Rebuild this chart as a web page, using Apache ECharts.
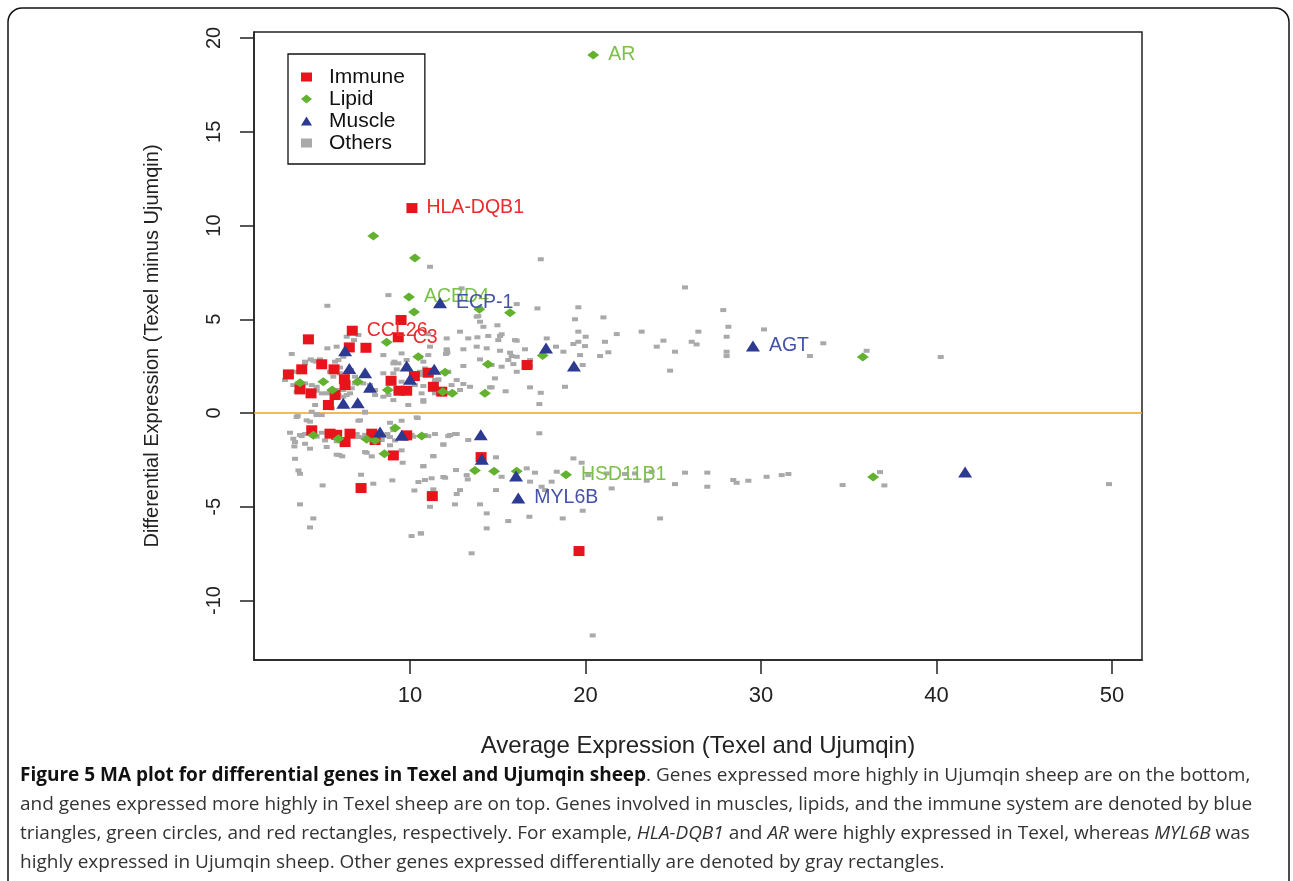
<!DOCTYPE html>
<html>
<head>
<meta charset="utf-8">
<script src="https://cdn.jsdelivr.net/npm/echarts@6/dist/echarts.min.js"></script>
<style>html,body{margin:0;padding:0;background:#fff;}#c{width:1293px;height:881px;}</style>
</head>
<body>
<div id="c"></div>
<script>
// ---- data: [average expression, differential expression, optional gene label] ----
const immunePts = [
  [10.11,10.93,'HLA-DQB1'],[9.49,4.96],[6.71,4.39,'CCL26'],[9.33,4.04,'C3'],[4.21,3.93],[6.54,3.50],[7.49,3.48],
  [4.97,2.60],[5.67,2.33],[3.83,2.33],[3.07,2.06],[6.26,1.80],[6.30,1.49],[4.36,1.05],[5.73,0.96],[5.35,0.43],
  [8.92,1.72],[9.37,1.19],[9.81,1.19],[10.25,1.97],[11.04,2.15],[11.33,1.40],[11.81,1.14],[3.73,1.26],[16.67,2.56],
  [4.40,-0.92],[5.44,-1.10],[5.82,-1.16],[6.58,-1.10],[6.30,-1.55],[7.82,-1.10],[8.01,-1.44],[9.05,-2.26],
  [7.21,-4.00],[11.27,-4.43],[14.05,-2.35],[19.63,-7.36],[9.81,-1.19]
];
const lipidPts = [
  [20.44,19.09,'AR'],[7.91,9.44],[10.28,8.27],[9.94,6.19,'ACBD4'],[10.23,5.39],[13.95,5.53],[15.70,5.35],
  [8.67,3.77],[10.47,3.00],[17.56,3.07],[35.80,2.99],[14.44,2.60],[12.00,2.18],[3.73,1.62],[5.06,1.67],
  [7.02,1.67],[5.57,1.23],[8.73,1.23],[11.86,1.14],[12.41,1.06],[14.27,1.05],
  [9.15,-0.80],[4.49,-1.19],[5.92,-1.37],[7.53,-1.40],[8.01,-1.46],[10.67,-1.23],[8.54,-2.17],
  [13.70,-3.06],[14.79,-3.11],[16.08,-3.11],[18.89,-3.29,'HSD11B1'],[36.39,-3.41]
];
const musclePts = [
  [11.71,5.88,'ECP-1'],[29.54,3.57,'AGT'],[17.75,3.47],[19.34,2.51],[41.63,-3.15],[6.30,3.32],[6.54,2.38],
  [7.44,2.15],[9.81,2.51],[11.38,2.33],[10.00,1.80],[7.72,1.37],[6.20,0.52],[7.02,0.55],
  [8.29,-1.01],[9.53,-1.19],[14.03,-1.16],[14.09,-2.47],[16.04,-3.36],[16.17,-4.53,'MYL6B']
];
const otherPts = [
  [11.14,7.80],[17.45,8.20],[25.67,6.70],[12.94,6.65],[16.08,5.81],[17.26,5.58],[19.59,5.64],[19.40,5.00],[21.02,5.10],
  [27.85,5.49],[13.89,5.17],[13.99,4.87],[14.18,4.60],[14.98,4.68],[12.85,4.34],[13.32,3.98],[13.84,4.04],[14.46,4.11],
  [15.13,4.11],[16.08,3.86],[17.79,3.98],[19.59,4.34],[20.01,4.07],[21.78,4.21],[23.20,4.34],[26.43,4.34],[28.14,4.60],
  [30.17,4.46],[28.04,4.07],[24.44,3.86],[26.05,3.80],[26.33,3.66],[24.06,3.54],[21.11,3.80],[19.97,3.57],[19.31,3.68],
  [18.74,3.27],[18.32,3.54],[16.55,3.40],[15.70,3.22],[15.13,3.32],[14.37,3.45],[13.80,3.54],[13.04,3.40],[12.09,3.40],
  [12.09,3.98],[12.05,3.15],[15.79,3.04],[15.60,2.83],[19.69,3.09],[20.83,3.04],[21.30,3.24],[25.10,3.27],[28.04,3.27],
  [28.04,3.04],[32.79,3.04],[33.55,3.72],[13.04,2.51],[13.99,2.86],[15.22,2.47],[15.89,2.61],[16.84,2.51],[19.84,2.56],
  [24.82,2.26],[11.61,1.80],[12.37,1.49],[13.04,1.55],[12.85,1.23],[14.65,1.37],[15.45,1.16],[16.84,1.37],[17.45,1.08],
  [17.37,0.48],[10.76,0.60],[12.09,1.05],[11.42,1.05],
  [36.02,3.32],[40.24,2.99],[36.78,-3.15],[37.03,-3.86],[49.83,-3.79],
  [11.42,-1.12],[12.28,-1.17],[12.56,-1.12],[13.32,-1.44],[11.90,-1.67],[17.37,-1.08],[11.33,-2.29],[14.90,-2.36],
  [10.76,-2.83],[12.62,-3.04],[13.23,-3.31],[13.29,-3.54],[12.00,-3.45],[11.23,-3.48],[10.85,-3.57],[15.22,-3.40],
  [16.65,-2.95],[17.12,-3.18],[18.36,-3.13],[19.31,-2.42],[19.78,-2.65],[20.16,-3.31],[21.21,-3.22],[22.25,-3.25],
  [22.82,-3.22],[23.49,-3.61],[23.77,-3.13],[25.10,-3.79],[25.67,-3.18],[26.94,-3.18],[26.94,-3.93],[28.42,-3.57],
  [28.61,-3.72],[29.28,-3.61],[30.32,-3.40],[31.18,-3.31],[31.56,-3.25],[34.65,-3.84],[11.33,-4.07],[12.85,-4.11],
  [14.90,-4.11],[12.66,-4.32],[11.14,-5.00],[12.56,-4.87],[13.99,-4.87],[14.37,-5.35],[15.60,-5.76],[16.80,-5.53],
  [18.70,-5.62],[19.84,-5.21],[21.49,-4.02],[24.25,-5.62],[14.37,-6.15],[10.63,-6.42],[13.51,-7.48],[20.41,-11.86],
  [17.69,-4.11],[16.84,-3.66],[17.50,-3.93],[18.07,-3.66],
  [8.77,6.29],[5.29,5.72],[14.00,5.58],[3.26,3.15],[4.34,2.86],[4.63,2.74],[4.02,2.74],[5.92,2.83],[6.81,3.89],
  [7.06,4.16],[5.29,3.45],[6.01,2.43],[6.39,2.03],[5.63,1.94],[4.68,1.40],[5.44,1.14],[6.20,0.87],[3.64,1.58],
  [4.40,0.07],[4.68,-0.11],[4.97,-0.11],[7.44,0.02],[7.34,1.58],[7.63,1.23],[8.01,0.96],[9.05,2.65],[9.24,2.33],
  [9.81,2.83],[10.57,2.97],[10.57,2.03],[10.76,1.44],[10.66,1.05],[11.71,1.05],[11.14,3.54],[12.13,3.22],[15.03,3.89],
  [14.65,2.56],[16.08,3.00],[16.84,2.83],[16.08,2.20],[19.59,3.80],[18.83,1.40],[12.66,1.76],[13.42,1.40],[14.56,1.37],
  [14.84,1.85],[11.42,1.76],[12.18,2.20],
  [4.02,2.65],[4.49,2.79],[4.87,2.86],[5.82,3.54],[5.73,2.74],[5.44,2.20],[6.01,2.12],[3.45,2.20],[2.88,1.76],
  [3.35,1.49],[4.02,1.58],[4.40,1.49],[6.20,1.23],[5.25,1.05],[5.92,0.96],[6.58,1.05],[7.72,1.49],[6.87,1.58],
  [8.01,1.23],[8.48,2.12],[8.48,3.09],[9.52,3.18],[11.04,3.09],[12.09,3.36],[10.76,2.74],[9.34,2.65],[9.05,2.12],
  [9.52,1.67],[10.76,0.69],[8.48,0.87],[9.05,0.69],[4.59,0.43],[5.54,0.25],[7.44,0.07],
  [4.68,1.19],[4.97,1.05],[3.83,1.23],[3.54,1.14],[5.92,1.23],[6.39,0.96],[6.68,1.32],[6.87,1.94],[6.64,2.29],
  [6.20,3.00],[9.11,2.74],[9.24,1.23],[9.81,1.32],[10.28,1.49],[10.57,2.20],[10.85,2.38],[11.61,1.76],[12.37,1.05],
  [9.90,0.43],[8.77,0.96],[13.80,5.14],[11.04,4.21],[15.22,4.20],[6.39,4.07],[15.98,3.89],
  [3.54,-0.21],[4.11,-0.39],[7.15,-0.39],[10.44,-0.27],[3.16,-1.05],[3.83,-1.23],[3.35,-1.37],[4.97,-1.05],[5.16,-1.46],
  [5.82,-1.51],[6.68,-1.19],[7.06,-1.28],[7.44,-1.16],[8.38,-1.23],[8.86,-1.28],[9.15,-1.46],[10.09,-1.16],[11.04,-1.23],
  [3.45,-1.55],[4.02,-1.64],[4.30,-1.90],[5.25,-1.81],[3.41,-1.78],[5.82,-2.22],[6.14,-2.31],[7.44,-2.08],[7.82,-2.31],
  [8.86,-1.72],[9.52,-1.99],[11.33,-2.31],[11.90,-1.69],[3.45,-2.44],[10.76,-2.84],[3.64,-3.06],[3.73,-3.24],[7.21,-3.29],
  [8.99,-3.59],[10.48,-3.68],[7.91,-3.77],[5.02,-3.86],[10.25,-4.13],[11.90,-3.41],[12.18,-1.23],
  [3.73,-4.87],[4.49,-5.62],[4.30,-6.10],[10.09,-6.56],[10.61,-6.42],[3.73,-1.17],[4.02,-1.12],[4.68,-1.26],[5.86,-1.23],
  [6.96,-1.12],[7.34,-1.30],[8.39,-1.44],[8.71,-1.12],[9.05,-0.91],[10.19,-1.26],[10.85,-1.17],[12.66,-1.12],[5.97,-2.24],
  [7.53,-2.12],[9.58,-2.65],[3.60,-0.16],[4.68,-0.05],[8.86,-0.52],[9.52,-0.41],[10.38,-0.23],[7.06,-0.41],[4.30,-0.46]
];
const categories = ['Immune','Lipid','Muscle','Others'];
const xTicks = [10,20,30,40,50];
const yTicks = [-10,-5,0,5,10,15,20];
const xTitle = 'Average Expression (Texel and Ujumqin)';
const yTitle = 'Differential Expression (Texel minus Ujumqin)';
const captionLines = [
  [['b','Figure 5 MA plot for differential genes in Texel and Ujumqin sheep'],['n','. Genes expressed more highly in Ujumqin sheep are on the bottom,']],
  [['n','and genes expressed more highly in Texel sheep are on top. Genes involved in muscles, lipids, and the immune system are denoted by blue']],
  [['n','triangles, green circles, and red rectangles, respectively. For example, '],['i','HLA-DQB1'],['n',' and '],['i','AR'],['n',' were highly expressed in Texel, whereas '],['i','MYL6B'],['n',' was']],
  [['n','highly expressed in Ujumqin sheep. Other genes expressed differentially are denoted by gray rectangles.']]
];

// ---- styling ----
const FONT = '"Liberation Sans", Arial, sans-serif';
const markerStyle = {
  Immune: {symbol:'rect', size:[11,10], color:'#e8131b', label:'#ea2c2c'},
  Lipid:  {symbol:'diamond', size:[12,9], color:'#62b22f', label:'#7cc04a'},
  Muscle: {symbol:'triangle', size:[14,11], color:'#2d3a91', label:'#4452a8'},
  Others: {symbol:'rect', size:[6,4], color:'#a9a9a9', label:'#a9a9a9'}
};
const dataByCat = {Immune: immunePts, Lipid: lipidPts, Muscle: musclePts, Others: otherPts};

const drawOrder = ['Others','Immune','Lipid','Muscle'];
const series = drawOrder.map((cat, i) => {
  const st = markerStyle[cat];
  const s = {
    name: cat, type: 'scatter', symbol: st.symbol, symbolSize: st.size,
    itemStyle: {color: st.color, opacity: 1},
    data: dataByCat[cat], z: 2 + i,
    emphasis: {disabled: true}, silent: true,
    label: {
      show: true, position: 'right', distance: 9,
      formatter: p => (p.data[2] || ''),
      color: st.label, fontFamily: FONT, fontSize: 19.5
    }
  };
  if (cat === 'Others') {
    s.markLine = {
      silent: true, symbol: ['none','none'], label: {show: false},
      lineStyle: {color: '#f5a21e', width: 1.6, type: 'solid'},
      data: [{yAxis: 0}], z: 1
    };
  }
  return s;
});

const captionText = captionLines.map(l => l.map(([s,t]) => '{' + s + '|' + t + '}').join('')).join('\n');
const capFont = '"Open Sans", "Noto Sans", sans-serif';

const chart = echarts.init(document.getElementById('c'), null, {renderer: 'canvas'});
chart.setOption({
  animation: false,
  backgroundColor: '#fff',
  grid: {left: 254, right: 151, top: 32, bottom: 221, show: true, borderColor: '#222', borderWidth: 1.5, containLabel: false},
  legend: {
    orient: 'vertical', left: 288, top: 54,
    data: categories,
    itemWidth: 11, itemHeight: 9, itemGap: 0,
    padding: [12, 20, 10, 13],
    borderColor: '#111', borderWidth: 1.3,
    selectedMode: false,
    textStyle: {fontFamily: FONT, fontSize: 21, color: '#111', lineHeight: 22, padding: [0,0,0,12]}
  },
  xAxis: {
    type: 'value', min: 1.11, max: 51.71,
    name: xTitle, nameLocation: 'middle', nameGap: 74,
    nameTextStyle: {fontFamily: FONT, fontSize: 24, color: '#222'},
    axisLine: {show: true, onZero: false, lineStyle: {color: '#222', width: 1.5}},
    axisTick: {show: true, length: 14, lineStyle: {color: '#222', width: 1.5}, customValues: xTicks},
    axisLabel: {customValues: xTicks, margin: 25, fontFamily: FONT, fontSize: 22, color: '#222'},
    splitLine: {show: false}
  },
  yAxis: {
    type: 'value', min: -13.17, max: 20.32,
    name: yTitle, nameLocation: 'middle', nameGap: 92, nameRotate: 90,
    nameTextStyle: {fontFamily: FONT, fontSize: 20, color: '#222'},
    axisLine: {show: true, onZero: false, lineStyle: {color: '#222', width: 1.5}},
    axisTick: {show: true, length: 14, lineStyle: {color: '#222', width: 1.5}, customValues: yTicks},
    axisLabel: {customValues: yTicks, rotate: 90, margin: 30, fontFamily: FONT, fontSize: 20, color: '#222'},
    splitLine: {show: false}
  },
  graphic: [
    {type: 'rect', silent: true, shape: {x: 8, y: 8, width: 1281, height: 920, r: 14},
     style: {fill: 'none', stroke: '#111', lineWidth: 1.5}},
    {type: 'text', left: 20, top: 766, silent: true,
     style: {
       text: captionText,
       rich: {
         b: {fontFamily: capFont, fontWeight: 'bold', fontSize: 19, lineHeight: 29, fill: '#111'},
         n: {fontFamily: capFont, fontSize: 19, lineHeight: 29, fill: '#333'},
         i: {fontFamily: capFont, fontStyle: 'italic', fontSize: 19, lineHeight: 29, fill: '#333'}
       }
     }}
  ],
  series: series
});
</script>
</body>
</html>
